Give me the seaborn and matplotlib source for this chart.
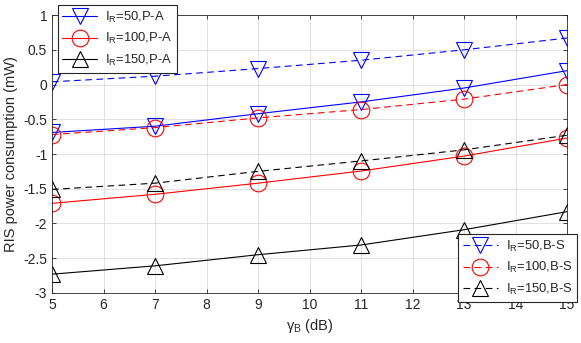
import matplotlib
matplotlib.use('Agg')
import matplotlib.pyplot as plt
import seaborn as sns
import pandas as pd

# ============================================================
# DATA
# ============================================================
gamma_b = [5, 7, 9, 11, 13, 15]

pa_50 = [-0.69, -0.60, -0.42, -0.25, -0.05, 0.20]
pa_100 = [-1.71, -1.58, -1.42, -1.245, -1.03, -0.77]
pa_150 = [-2.73, -2.61, -2.45, -2.31, -2.09, -1.83]

bs_50 = [0.04, 0.12, 0.23, 0.35, 0.50, 0.67]
bs_100 = [-0.72, -0.62, -0.48, -0.36, -0.21, 0.00]
bs_150 = [-1.51, -1.42, -1.25, -1.10, -0.94, -0.73]

pa_labels = ['I$_\\mathrm{R}$=50,P-A', 'I$_\\mathrm{R}$=100,P-A', 'I$_\\mathrm{R}$=150,P-A']
bs_labels = ['I$_\\mathrm{R}$=50,B-S', 'I$_\\mathrm{R}$=100,B-S', 'I$_\\mathrm{R}$=150,B-S']

x_ticks = list(range(5, 16))
y_ticks = [-3, -2.5, -2, -1.5, -1, -0.5, 0, 0.5, 1]
y_tick_labels = ['-3', '-2.5', '-2', '-1.5', '-1', '-0.5', '0', '0.5', '1']

# ============================================================
# PLOT
# ============================================================
sns.set_style('ticks')
plt.rcParams['font.family'] = ['Liberation Sans', 'DejaVu Sans']
plt.rcParams['mathtext.fontset'] = 'custom'
plt.rcParams['mathtext.rm'] = 'Liberation Sans'

fig, ax = plt.subplots(figsize=(5.81, 3.43), dpi=100)
fig.subplots_adjust(left=0.0895, right=0.976, top=0.956, bottom=0.146)

colors = ['#0000ff', '#ff0000', '#000000']
markers = ['v', 'o', '^']

pa_series = [pa_50, pa_100, pa_150]
bs_series = [bs_50, bs_100, bs_150]

pa_handles = []
for vals, lab, col, mk in zip(pa_series, pa_labels, colors, markers):
    df = pd.DataFrame({'x': gamma_b, 'y': vals})
    sns.lineplot(data=df, x='x', y='y', ax=ax, color=col, linewidth=0.8,
                 marker=mk, markersize=12, markerfacecolor='none',
                 markeredgecolor=col, markeredgewidth=0.8, label=lab)
    pa_handles.append(ax.lines[-1])

bs_handles = []
for vals, lab, col, mk in zip(bs_series, bs_labels, colors, markers):
    df = pd.DataFrame({'x': gamma_b, 'y': vals})
    sns.lineplot(data=df, x='x', y='y', ax=ax, color=col, linewidth=0.8,
                 linestyle=(0, (6, 4)), marker=mk, markersize=12,
                 markerfacecolor='none', markeredgecolor=col,
                 markeredgewidth=0.8, label=lab)
    bs_handles.append(ax.lines[-1])

ax.set_xlim(5, 15)
ax.set_ylim(-3, 1)
ax.set_xticks(x_ticks)
ax.set_yticks(y_ticks)
ax.set_yticklabels(y_tick_labels)
ax.tick_params(direction='in', length=3, width=0.6, labelsize=10,
               top=True, right=True, colors='#262626')
ax.grid(True, color='#dcdcdc', linewidth=0.6)
ax.set_axisbelow(True)
for side in ax.spines.values():
    side.set_linewidth(0.6)
    side.set_color('#262626')

ax.set_xlabel('γ$_\\mathrm{B}$ (dB)', fontsize=10.5)
ax.set_ylabel('RIS power consumption (mW)', fontsize=10.5)

leg_kw = dict(fontsize=9.4, fancybox=False, framealpha=1, edgecolor='#262626',
              borderaxespad=0, handlelength=2.7, labelspacing=0.5,
              borderpad=0.35, handletextpad=0.6)
leg1 = ax.legend(pa_handles, pa_labels, loc='upper left',
                 bbox_to_anchor=(0.011, 1.036), **leg_kw)
leg1.get_frame().set_linewidth(0.8)
ax.add_artist(leg1)
leg2 = ax.legend(bs_handles, bs_labels, loc='lower right',
                 bbox_to_anchor=(1.019, -0.031), **leg_kw)
leg2.get_frame().set_linewidth(0.8)

fig.savefig('out.png', dpi=100)
plt.close(fig)
